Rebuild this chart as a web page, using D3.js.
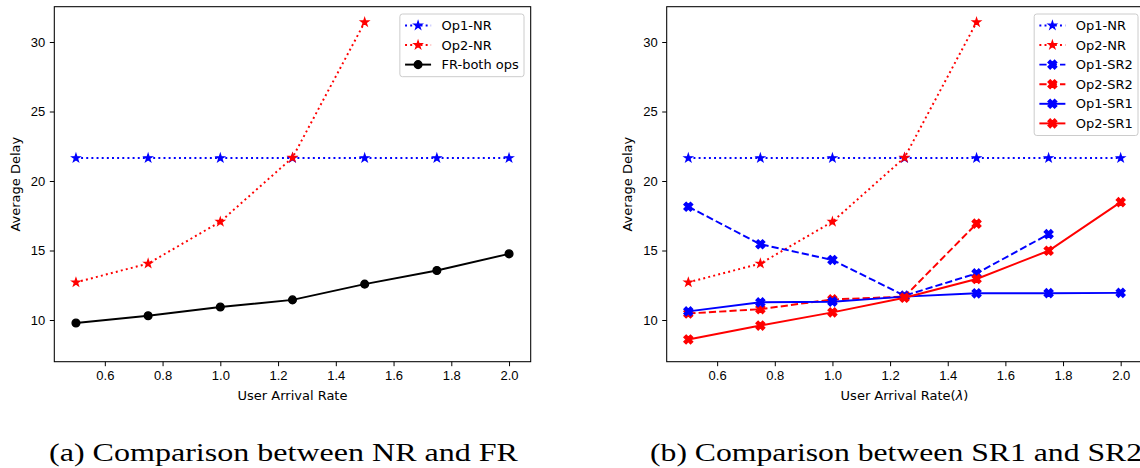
<!DOCTYPE html>
<meta charset="utf-8">
<style>
body { margin: 0; background: #fff; }
svg { display: block; font-family: "DejaVu Sans", sans-serif; }
.axis text { font-size: 13px; fill: #000; }
.axis line { stroke: #000; stroke-width: 1px; }
.axis .domain { display: none; }
.label { font-size: 13px; fill: #000; }
.legend text { font-size: 13px; fill: #000; }
.caption { font-family: "Liberation Serif", serif; font-size: 26px; fill: #000; }
</style>
<svg width="1140" height="468"></svg>
<script src="https://cdn.jsdelivr.net/npm/d3@7"></script>
<script>

// data
var rates = [0.5, 0.75, 1.0, 1.25, 1.5, 1.75, 2.0];
var op1NR = [21.65, 21.65, 21.65, 21.65, 21.65, 21.65, 21.65];
var op2NR = [12.71, 14.06, 17.07, 21.68, 31.42];
var frBoth = [9.78, 10.31, 10.93, 11.45, 12.58, 13.56, 14.76];
var op1SR2 = [18.15, 15.45, 14.32, 11.75, 13.35, 16.18];
var op2SR2 = [10.47, 10.78, 11.48, 11.68, 16.93];
var op1SR1 = [10.62, 11.27, 11.32, 11.68, 11.92, 11.93, 11.95];
var op2SR1 = [8.6, 9.6, 10.55, 11.6, 12.95, 14.98, 18.48];

var xTicks = [0.6, 0.8, 1.0, 1.2, 1.4, 1.6, 1.8, 2.0];
var yTicks = [10, 15, 20, 25, 30];
var xDomain = [0.425, 2.075],
    yDomain = [7.0, 32.54];

var DOT = "1.95,3.2", DASH = "7.2,3.1";

function pts(vals) {
  return vals.map(function(v, i) { return {x: rates[i], y: v}; });
}

var seriesA = [
  {name: "Op1-NR", data: pts(op1NR), color: "#0000ff", dash: DOT, marker: "star"},
  {name: "Op2-NR", data: pts(op2NR), color: "#ff0000", dash: DOT, marker: "star"},
  {name: "FR-both ops", data: pts(frBoth), color: "#000000", dash: null, marker: "circle"}
];
var seriesB = [
  {name: "Op1-NR", data: pts(op1NR), color: "#0000ff", dash: DOT, marker: "star"},
  {name: "Op2-NR", data: pts(op2NR), color: "#ff0000", dash: DOT, marker: "star"},
  {name: "Op1-SR2", data: pts(op1SR2), color: "#0000ff", dash: DASH, marker: "x"},
  {name: "Op2-SR2", data: pts(op2SR2), color: "#ff0000", dash: DASH, marker: "x"},
  {name: "Op1-SR1", data: pts(op1SR1), color: "#0000ff", dash: null, marker: "x"},
  {name: "Op2-SR1", data: pts(op2SR1), color: "#ff0000", dash: null, marker: "x"}
];

function starPath(r) {
  var p = [], ri = r * 0.381966;
  for (var k = 0; k < 10; k++) {
    var a = -Math.PI / 2 + k * Math.PI / 5, rr = k % 2 ? ri : r;
    p.push([rr * Math.cos(a), rr * Math.sin(a)]);
  }
  return "M" + p.join("L") + "Z";
}
function xPath(s) {
  var v = [[-1,-2],[0,-1],[1,-2],[2,-1],[1,0],[2,1],[1,2],[0,1],[-1,2],[-2,1],[-1,0],[-2,-1]];
  return "M" + v.map(function(d) { return [d[0] * s / 4, d[1] * s / 4]; }).join("L") + "Z";
}

function drawMarker(sel, type, color) {
  if (type === "circle") {
    sel.append("circle").attr("r", 3.9);
  } else if (type === "star") {
    sel.append("path").attr("d", starPath(4.1));
  } else {
    sel.append("path").attr("d", xPath(8.8));
  }
  sel.selectAll("circle,path")
      .attr("fill", color)
      .attr("stroke", color)
      .attr("stroke-width", 1.3)
      .attr("stroke-linejoin", "miter");
}

var svg = d3.select("svg");

function panel(cfg) {
  var x = d3.scaleLinear().domain(xDomain).range([cfg.left, cfg.right]),
      y = d3.scaleLinear().domain(yDomain).range([cfg.bottom, cfg.top]);

  var g = svg.append("g");

  g.append("g")
      .attr("class", "axis")
      .attr("transform", "translate(0," + cfg.bottom + ")")
      .call(d3.axisBottom(x).tickValues(xTicks).tickFormat(d3.format(".1f")).tickSize(4.5).tickPadding(4.5));

  g.append("g")
      .attr("class", "axis")
      .attr("transform", "translate(" + cfg.left + ",0)")
      .call(d3.axisLeft(y).tickValues(yTicks).tickFormat(d3.format("d")).tickSize(4.5).tickPadding(4.5));

  var line = d3.line()
      .x(function(d) { return x(d.x); })
      .y(function(d) { return y(d.y); });

  cfg.series.forEach(function(s) {
    var sg = g.append("g");
    sg.append("path")
        .attr("d", line(s.data))
        .attr("fill", "none")
        .attr("stroke", s.color)
        .attr("stroke-width", 1.95)
        .attr("stroke-dasharray", s.dash);
    sg.selectAll(".m")
      .data(s.data)
      .enter().append("g")
        .attr("class", "m")
        .attr("transform", function(d) { return "translate(" + x(d.x) + "," + y(d.y) + ")"; })
        .each(function() { drawMarker(d3.select(this), s.marker, s.color); });
  });

  // frame
  g.append("rect")
      .attr("x", cfg.left).attr("y", cfg.top)
      .attr("width", cfg.right - cfg.left).attr("height", cfg.bottom - cfg.top)
      .attr("fill", "none").attr("stroke", "#000").attr("stroke-width", 1.05);

  g.append("text")
      .attr("class", "label")
      .attr("text-anchor", "middle")
      .attr("transform", "translate(" + (cfg.left - 34.5) + "," + ((cfg.top + cfg.bottom) / 2) + ") rotate(-90)")
      .text("Average Delay");

  var xl = g.append("text")
      .attr("class", "label")
      .attr("text-anchor", "middle")
      .attr("x", (cfg.left + cfg.right) / 2)
      .attr("y", 400)
      .text(cfg.xlabel);
  if (cfg.lambda) {
    xl.append("tspan").text("(");
    xl.append("tspan").attr("font-style", "italic").text("λ");
    xl.append("tspan").text(")");
  }

  // legend
  var lg = g.append("g").attr("class", "legend");
  var box = lg.append("rect");
  var rowH = 19.6, pad = 5.2, handle = 26, gap = 10.4;
  var texts = [];
  cfg.series.forEach(function(s, i) {
    var cy = cfg.top + 7.3 + pad + 6.2 + i * rowH;
    var row = lg.append("g").attr("transform", "translate(0," + cy + ")");
    row.append("line")
        .attr("x1", 0).attr("x2", handle)
        .attr("stroke", s.color).attr("stroke-width", 1.95)
        .attr("stroke-dasharray", s.dash);
    var mk = row.append("g").attr("transform", "translate(" + handle / 2 + ",0)");
    drawMarker(mk, s.marker, s.color);
    texts.push(row.append("text").attr("x", handle + gap).attr("dy", "0.36em").text(s.name));
  });
  var tw = d3.max(texts, function(t) { return t.node().getComputedTextLength(); });
  var bw = pad * 2 + handle + gap + tw;
  var bx = cfg.legendRight - bw;
  lg.selectAll("g").each(function() {
    var tr = d3.select(this).attr("transform");
    if (tr.indexOf("translate(0,") === 0) {
      d3.select(this).attr("transform", tr.replace("translate(0,", "translate(" + (bx + pad) + ","));
    }
  });
  box.attr("x", bx).attr("y", cfg.top + 7.3)
      .attr("width", bw).attr("height", cfg.series.length * rowH - 6.5 + pad * 2)
      .attr("rx", 2.6)
      .attr("fill", "#fff").attr("fill-opacity", 0.8)
      .attr("stroke", "#cccccc").attr("stroke-width", 1);
}

panel({left: 54.3, right: 530.7, top: 6.7, bottom: 361.7, series: seriesA,
       xlabel: "User Arrival Rate", legendRight: 524});
panel({left: 666.7, right: 1142.3, top: 6.7, bottom: 361.7, series: seriesB,
       xlabel: "User Arrival Rate", lambda: true, legendRight: 1138});

svg.append("text").attr("class", "caption")
    .attr("x", 49).attr("y", 461)
    .attr("textLength", 469).attr("lengthAdjust", "spacingAndGlyphs")
    .text("(a) Comparison between NR and FR");
svg.append("text").attr("class", "caption")
    .attr("x", 650).attr("y", 461)
    .attr("textLength", 492).attr("lengthAdjust", "spacingAndGlyphs")
    .text("(b) Comparison between SR1 and SR2");

</script>
